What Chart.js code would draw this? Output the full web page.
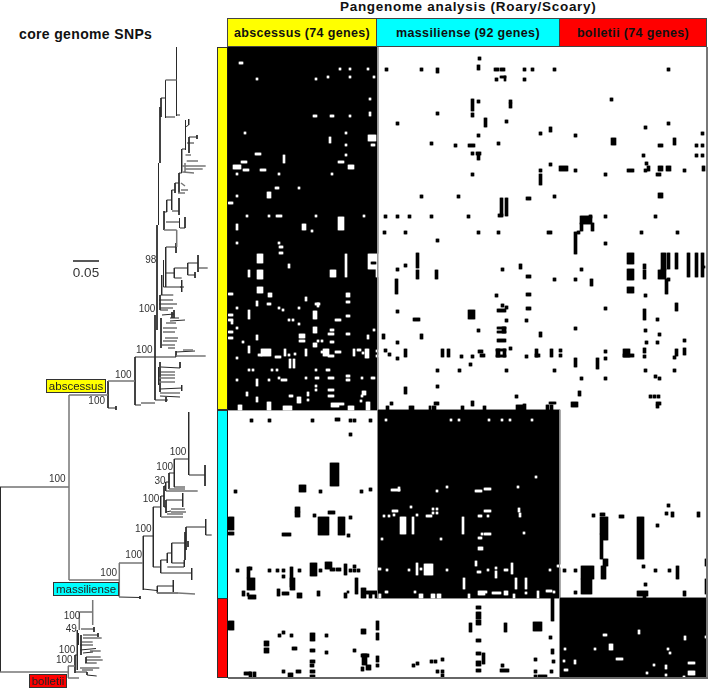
<!DOCTYPE html>
<html>
<head>
<meta charset="utf-8">
<title>Pangenome</title>
<script src="https://cdn.jsdelivr.net/npm/chart.js@4"></script>
<style>
    html, body { margin: 0; padding: 0; background: #fff; width: 708px; height: 688px; overflow: hidden; font-family: "Liberation Sans", Arial, sans-serif; }
    canvas { position: absolute; display: block; }
    #heatChart { filter: blur(0.4px); }
    .abs { position: absolute; box-sizing: border-box; }
    .title { font-weight: bold; color: #111; white-space: nowrap; }
    .head { top: 18px; height: 29px; border: 1px solid #444; font-weight: bold; font-size: 12.5px; line-height: 28px; text-align: center; color: #111; letter-spacing: 0.35px; white-space: nowrap; }
    .strip { left: 217px; width: 11px; border: 1px solid #333; border-right: 1px solid #111; }
</style>
</head>
<body>
<div class="abs title" style="left:19px;top:26px;font-size:14px;letter-spacing:0.35px">core genome SNPs</div>
<div class="abs title" style="left:340px;top:-1px;font-size:13.5px;letter-spacing:0.7px">Pangenome analysis (Roary/Scoary)</div>
<div class="abs head" style="left:227px;width:150px;background:#ffff00">abscessus (74 genes)</div>
<div class="abs head" style="left:376px;width:184px;background:#00ffff">massiliense (92 genes)</div>
<div class="abs head" style="left:559px;width:148px;background:#ff0000">bolletii (74 genes)</div>
<div class="abs strip" style="top:47px;height:363px;background:#ffff00"></div>
<div class="abs strip" style="top:410px;height:189px;background:#00ffff"></div>
<div class="abs strip" style="top:598px;height:80px;background:#ff0000"></div>
<canvas id="treeChart" width="216" height="688" style="left:0;top:0"></canvas>
<canvas id="heatChart" width="480" height="631" style="left:228px;top:47px"></canvas>
<div class="abs" style="left:706px;top:47px;width:2px;height:631px;background:#777"></div>
<div class="abs" style="left:228px;top:677px;width:480px;height:1.5px;background:#666"></div>
<div class="abs" style="left:377px;top:47px;width:1px;height:363px;background:#999"></div>
<div class="abs" style="left:377px;top:410px;width:1px;height:188px;background:#888"></div>
<div class="abs" style="left:559px;top:410px;width:1px;height:268px;background:#888"></div>
<script>
// Heatmap track positions, black species blocks [startX, endX, startRow, endRow]
const trackWidth = 480;
const rowCount = 631;
const blocks = [
    [0, 150, 0, 363],
    [150, 332, 363, 551],
    [332, 479, 551, 630]
];

// Genes missing inside the black blocks [x, row, width, height], default 2x2
const whiteCells = [
    [11,15,4],[111,21],[121,21],[139,21],[28,31],[87,31],[99,29],[121,29],[145,29],[141,51],
    [85,68,4],[102,68,4],[121,68],[141,65,2,4],[16,85],[117,85],[101,90,2,6],[140,88,8,6],[117,97],[143,97,4],
    [117,107],[27,106,6],[55,108,2,8],[13,114,6],[110,114,6],[5,118,8,4],[120,118,6,4],[15,122,6],[32,122,6],
    [8,126],[50,126],[103,126],[47,140,4],[70,140],[8,148],[39,145,4,6],[0,155,5],[18,168],[40,168],[48,168,6],
    [87,168],[135,168],[8,177,2,6],[74,177,4,6],[110,170,6,13],[83,183],
    [8,195],[50,195],[51,199,4],[51,205,4],[29,207,6,9],[117,207,2,23],[60,217,2,4],[20,223,2,7],[29,223,6,9],
    [102,223,6,7],[29,240,6,6],[0,246,5],[40,246,4,4],[118,246,4,4],[77,250,2,4],[118,254,4],[28,254,2,5],
    [39,256,4],[87,256,5],[89,256,2,4],[8,260],[50,260],[54,262],[70,260],[0,267,5],[20,263,2,9],[85,264,4,8],
    [118,268,4],[0,272,5],[3,274,2,3],[60,272],[64,272],[107,272,6],[70,276],[8,280],[85,280,4,6],[0,284,5],
    [102,282,4],[100,286,6],[118,286,4],[145,282],[139,288,2,4],[0,290,5],[28,288,2,5],[71,287,6,4],[71,293,6],
    [102,294,4],[14,294],[89,293],[93,293],[85,296,4,4],[20,299,2,7],[33,302,10,7],[30,307,4],[56,302,2,7],
    [47,309,6],[60,307],[66,306],[77,302,2,7],[95,302,6,7],[93,304],[100,308,6],[107,304,6],[125,302,2,7],
    [129,302,4],[137,302,4,9],[134,305],[148,303],[148,308],[8,310],[61,312,2,9],[65,312,2,9],[20,322],[24,322],
    [43,322],[48,322],[87,322],[98,322,4],[8,332],[28,332,2,7],[40,332],[50,330],[53,332,6],[77,330],[87,330,4],
    [100,330,6],[118,328,4],[118,332,4],[133,330],[143,330,4],[87,338],[87,342],[100,342,6],[134,344,4,4],
    [18,345,2,4],[79,345,2,4],[100,348,6],[61,348,4],[69,350,4,6],[133,348],[28,350,2,5],[132,353],[79,352],
    [103,356,8,4],[111,356,5],[10,358,4,5],[39,355,4,8],[55,359,9,4],[120,359,6,4],[138,355,4,8],
    [140,207,10,15],[148,222,2,8],
    // massiliense block
    [260,372],[273,372],[281,372],[303,372],[157,372],[222,372],[230,372],
    [163,442,9],[170,440,2,4],[208,443],[218,439],[164,463,6],[182,459],[204,461],[208,461],[204,465],[208,465],
    [155,468],[160,468],[165,467],[188,467],[198,468,6],[172,470,6,17],[184,470,2,17],[234,470,2,17],[153,491],
    [212,491],[150,521,3],[158,522],[180,522],[218,522],[188,516,2,12],[196,517,9,11],[192,521],[235,531,2,11],
    [191,547,4,4],[203,547,4,4],[209,547,4,4],[186,544],[157,544,3],[150,547,3,4],
    [307,429],[289,439],[247,443,7],[256,441,7],[256,463,7],[290,461,2,4],[291,466,2,4],[250,468,4],[259,468],
    [295,485],[256,486,7],[253,486],[250,490,4],[250,500,5,3],[247,514,2,5],[259,522],[267,520],[267,524,2,7],
    [276,522,4],[283,516,2,11],[249,524,4],[321,522],[329,518,6],[287,531,2,11],[297,531,2,11],[250,544,7,4],
    [257,544],[264,545,9],[276,544,4,4],[297,545],[318,543,6],[240,547,2,4],[285,547,2,4],[309,544,2,7],[325,544],
    // bolletii block
    [375,587,4],[410,583,2,4],[456,589,2,4],[477,589],[381,597,4,6],[336,601],[366,601],[439,601],[441,605],
    [388,611,7],[335,613],[346,613,2,4],[460,615,7],[425,617],[437,618,2,4],[336,622,4],[418,625],[437,627],
    [460,624,7,4],[455,629]
];

// Genes present outside the black blocks [x, row, width, height], default 3x3
const blackCells = [
    [157,21],[192,21],[208,21,3,5],[208,65],[168,75],[202,95],[226,97],[192,148],[229,148],[156,168],[168,168],
    [180,168],[202,168],[155,184],[176,184],[208,192],[188,206,3,15],[176,217],[168,221],[188,223,3,9],[207,223,3,9],
    [167,232,3,15],[168,263],[185,271,7],[154,287,3,5],[192,287,3,5],[168,294],[156,302],[160,306],[176,302,3,8],
    [168,310],[213,302,3,8],[219,302,3,8],[232,308],[208,322],[230,322],[176,340,3,7],[208,338],[162,355],[206,355,5],
    [158,359,3,4],[181,359,5,4],[201,359,2,4],[204,359,4,4],[233,359,3,4],[143,215,5,2],
    [250,10],[249,18,3,5],[266,21,5],[272,21,5],[295,21],[303,21],[325,21],[439,21],[267,31],[272,29,6,2],[276,29,2,5],
    [295,31],[382,51],[249,53],[281,53],[281,56,3,5],[243,52,3,12],[243,66,3,4],[256,71,3,9],[277,73],[439,75],[416,79],
    [321,80,3,5],[473,85],[311,85],[249,87],[346,87],[383,91,5,7],[445,91,3,7],[269,95],[240,97,7],[430,97,5],[467,97],
    [473,97],[243,105],[248,105,5],[249,108,3,5],[414,107],[467,107],[473,107],[417,115],[321,116],[331,119,9,5],
    [419,119,3,5],[430,119,5,5],[438,119,5,5],[474,119,3,5],[311,122],[346,122],[416,122],[455,122],[399,122,7],[243,126],
    [376,126],[428,126,5],[311,127,3,11],[298,150,5],[325,148],[430,146,5,5],[277,151,3,18],[272,151,3,18],[270,167,5],
    [239,168],[376,168],[426,168],[352,169,12,8],[352,176,3,8],[363,176,3,8],[361,168],
    [249,184],[269,184],[319,184,5],[349,184],[412,184],[448,184],[346,185,3,22],[376,195],[399,206,7,11],[433,206,5,17],
    [439,206,3,16],[447,206,3,16],[459,206,3,24],[467,206,3,24],[473,206,3,24],[475,219,2,2],[415,217,3,5],[415,223,3,9],
    [273,221],[291,217,3,5],[352,221],[399,222,7,11],[430,223,3,9],[433,222,5,10],[439,231],[437,232,3,15],[298,228,5],
    [325,231],[346,231],[362,232,3,7],[399,240,7,6],[267,247],[298,246,5],[416,247],[273,257],[277,259],[269,262,9],
    [298,260,5],[240,263,7,9],[376,260],[447,256,3,8],[415,262,3,11],[428,271],[277,272],[297,272],[249,282],[346,280],
    [416,282],[430,286],[269,280,9,2],[269,284,9,2],[274,280,4,6],[311,285,3,5],[269,292,9],[455,292],[417,294],[428,294],
    [281,300],[250,303,5],[252,307,5],[243,308],[241,316],[268,302,4,8],[275,302,3,8],[268,302,10,2],[268,308,10,2],[297,308],
    [307,302,3,8],[307,307,5],[322,302,3,8],[331,302],[331,307],[376,303],[376,310],[395,302,7,8],[395,307,11],[415,301,3,5],
    [415,308],[447,302,3,7],[445,309],[455,301,3,7],[346,311,3,9],[368,311,3,11],[277,322],[325,322],[416,322],[445,322],
    [426,328],[430,330],[352,330],[376,330],[350,344,3,5],[287,348],[421,348],[425,348],[429,348],[243,354,3,5],[428,355,5],
    [428,358],[343,355,7,5],[321,355,7,2],[255,359,3,4],[288,358,9,5],[295,357,3,6],[318,358,3,5],[322,358,3,5],
    // massiliense rows
    [22,372],[40,372],[83,372],[107,371,5],[121,372],[125,372],[141,372],[121,386],[102,416,9,23],[71,438,7,7],[6,443],
    [91,443],[132,443],[141,441],[67,460,5,5],[67,465,5,5],[85,467],[100,464,7],[121,469],[0,470,6,13],[0,485,6],
    [90,470,11,18],[110,470,7,18],[119,487],[54,486,9],[97,515,7,7],[8,522],[19,520,3,11],[19,531,8,12],[21,520],[40,522],
    [48,522],[54,522],[70,522],[54,528],[62,520,3,20],[62,531,5,12],[82,516,7,13],[91,522],[102,521,5],[108,521,5],
    [116,517,3,11],[121,522],[125,518],[125,522],[129,522],[127,531,3,16],[14,544,3,5],[19,546,2,3],[20,548,8,4],
    [49,542,3,7],[54,545,7],[69,546,5,5],[89,544,3,5],[116,546,3,5],[119,544,2,2],[133,541,5,10],[138,544,12],[141,547,3,4],
    [147,547,3,4],[335,522],[346,522],[364,467],[372,466,5],[391,468,5],[439,457],[437,465],[443,465,3,5],[469,465,3,5],
    [372,470,3,17],[375,470,5,23],[409,470,7,42],[428,477],[372,487,3,25],[375,512,5,7],[477,512,3,7],[414,518],[426,522],
    [440,522],[353,519,13,13],[353,532,11,15],[373,519,5,13],[448,519,3,13],[416,536],[477,532,3,15],[346,544],[409,544,11,5],
    [415,547,3,5],[455,544,3,5],
    // bolletii rows
    [0,574,6,9],[148,574,3,9],[148,586,3,7],[133,582,5,5],[54,584],[50,587],[62,587],[97,587],[82,586,5,8],[36,594,5,5],
    [36,601,5,5],[64,600,5],[82,602,5],[97,604],[125,602],[133,607,8],[134,607,5,11],[133,620,3,4],[138,618,5,5],[148,609,3,6],
    [148,617],[184,617],[188,615],[202,613],[206,613],[213,611],[208,623],[213,623],[213,627],[82,613,5],[82,617,4],[82,623,5],
    [82,628,5,2],[16,625,7],[21,625,3,5],[25,625,3,5],[54,623],[60,626,5,4],[68,623,5],
    [248,559,5],[248,565,5,7],[248,573,5,5],[241,576,3,9],[276,576,3,9],[305,575,9,9],[323,550,3,24],[321,589],[248,592,5],
    [248,605,5],[254,606,3,11],[323,602,3,5],[306,611],[324,613],[248,614,5,5],[248,622,5],[273,617],[272,622,9],[306,623],
    [322,623],[306,628,3,2],[310,628,9,2]
];

// Tree branches [x1, y1, x2, y2]
const darkBranches = [
    [0.5,487,0.5,672],[0,487,69,487],[108,381,108,408],[108,408,116,408],[116,406,116,410],[135,357,135,405],[135,357,155,357],
    [160,107,160,163],[157,225,157,330],[155,315,155,400],[158.5,163,158.5,225],[155,400,166,400],[166,397,166,402],
    [135,405,141,405],[141,403,155,403],
    [161,98,161,117],[161,98,165.5,98],[165.5,80,165.5,118],[176.5,47,176.5,116],[176.5,115,180,115],[165.5,117,175,117],
    [164,211,164,230],[164,212,166.7,212],[166.7,200,166.7,212],[166.7,200,171.7,200],[171.7,190,171.7,210],[171.7,190,175,190],
    [175,183,175,193],[175,183,179,183],[179,173,179,193],[179,173,181.7,173],[181.7,149,181.7,173],[182,149,185.5,149],
    [185.5,120,185.5,150],[185.5,127,188.7,125],[188.7,119,188.7,125],[189,137,189,153],[189,137,197,137],[197,135,197,139],
    [187,143,194,143],[172,211,179,211],[179,198,179,215],[166,222,179,222],[179.5,218,179.5,228],[180,228,185,228],[185,217,185,228],
    [166,247,176.7,247],[176,243,176,253],[165.7,247,165.7,287],[163.5,260,163.5,287],[165.7,273,174.3,273],[174.3,268,174.3,278],
    [174.3,268,187.7,268],[187.7,263,187.7,275],[187.7,263,198,263],[198,255,198,272],[199,268,207.7,268],[187.7,275,195,275],
    [195,272,195,278],[174.3,278,181.7,278],[181.7,280,181.7,292],[180,287,184,287],[163.5,287,181.7,287],[161.7,275,161.7,295],
    [160.7,295,173.3,295],[159,300,173,300],[159,304,177,304],[160,308,173,308],[160,310,168,310],[160,295,160,310],
    [161,318,161,348],[162,315,174,314],[170,318,179,318],[170,321,185,320],[166,323,176,323],[163,328,177,328],[163,332,175,332],
    [165,338,178,338],[163,341,177,341],[162,345,175,345],[168,348,175,348],[172,312,172,318],[174,310,174,318],
    [160,357,176,357],[176,351,176,357],[176,352,195,351],[155,357,160,357],
    [158.5,367,158.5,385],[161,367,180,368],[180,362,180,368],[160,362,160,392],[160,389,182,388],[181.7,385,181.7,391],
    [160,396,180,397],[166,400,168,400],
    // massiliense
    [119,597,140,597.5],[140,596,140,599],[143,536,153,536],[143.3,536,143.3,590],[143,589,157,590.5],[157,586,173,586],[173.3,580,173.3,592],
    [157.3,586,157.3,593],[157,593,178,593],[153.3,507,153.3,567],[153,507,160.7,507],[160.7,496,160.7,517],[161,496,164,496],[164,486,164,507],
    [164,486,165.7,486],[165.7,482,165.7,491],[165.7,482,169,482],[169,473,169,489],[169,473,174.3,473],[174.3,459,174.3,487],[174.3,459,188.7,459],
    [188.7,412,188.7,475],[189,475,205,475],[205,465,205,486],[174,487,185,487],[166,491,197.7,491],[164,507,166,507],[166,500,166,513],
    [166,500,182.7,500],[182.7,493,182.7,507],[166,512,171,511],[171,509,185,509],[171,512,186,512],[153,567,160.7,567],[160.7,560,160.7,573],
    [160.7,560,167.3,560],[167.3,553,167.3,563],[167.3,553,171.7,553],[171.7,543,171.7,563],[171.7,543,185,543],[185,532,185,560],[186,527,186,550],
    [186,527,205.7,527],[205.7,519,205.7,535],[205.7,535,211.7,535],[188,541,188,547],[171.7,563,184,563],[184.3,560,184.3,567],[167.3,567,184,567],
    [160.7,573,191.7,573],[191.7,568,191.7,580],
    // bolletii
    [75,655,75,673],[75,655,77.3,655],[77.3,630,77.3,670],[78.3,633,78.3,645],[79.3,612,92.7,612],[81,629,94,629],[94,627,94,632],
    [83,635,98,635],[98,633,98,637],[83,638,101.7,638],[80,645,93,645],[80,650,96,648.5],[90,651,100.7,651],[83,653,93,652],[86,657,100.7,657],
    [86,660,102.7,660],[85,663,96.7,663],[80,668,99.3,668],[82,670,93,670],[87,675,96.7,676],[76,672,87,672],[86,657,86,663],[81,635,81,655],
    [87,672,87,675]
];
const greyBranches = [
    [0,672,69,672],[69,395,69,580],[69,395,108,395],[108,381,135,381],[165.5,80,176.5,80],[185.5,155,191,155],[186.7,161,198,161],
    [182,166,205.7,166],[185,169,202.7,169],[183,172,194,173],[181,183,185,186],[181,190,188,190],[178,193,185,193],[164,230,176.7,230],
    [176.7,230,176.7,247],[185,163,185,172],
    [176,356,205.7,356],[183,350,193,350],[161,372,175,372],[161,375,175,375],[159,378,175,378],[159,382,175,382],[160,393,180,393],
    [69,580,119,580],[119.3,563,119.3,597],[119,563,143,563],[157,593,178,593],[178,593,195,594],[169,489,185,489],[161,517,183,517],[167,514,183,514],
    [68.3,666,68.3,678],[68,666,75,666],[68,678,79,678],[79.3,612,79.3,630],[92.7,600,92.7,625],[82,642,92.7,642]
];
const scaleBar = [73, 261, 99, 261];

// Bootstrap support [x, y, text]
const supportLabels = [
    [150.7,260,'98'],[147,309,'100'],[144.3,350,'100'],[123.3,375,'100'],[96.7,401,'100'],[57.3,479.5,'100'],[178,452,'100'],
    [164.7,467,'100'],[160,481,'30'],[151,499,'100'],[143.3,529.5,'100'],[133.7,555,'100'],[108.7,573,'100'],[72,616,'100'],
    [71.3,629,'49'],[67,650,'100'],[64.3,660,'100']
];
// Clade boxes [x, y, width, height, fill, text]
const cladeLabels = [
    [46.5,379.5,59,13,'#ffff00','abscessus'],
    [53.5,582.5,65,13,'#00ffff','massiliense'],
    [29.5,674.5,37,13,'#ff0000','bolletii']
];

// turn [x1,y1,x2,y2] lists into a broken line for a scatter dataset
function branchPoints(list) {
    const pts = [];
    list.forEach(s => {
        pts.push({ x: s[0], y: s[1] }, { x: s[2], y: s[3] }, { x: NaN, y: NaN });
    });
    return pts;
}

const treeLabelPlugin = {
    id: 'treeLabels',
    afterDatasetsDraw(chart) {
        const { ctx, scales: { x, y } } = chart;
        ctx.save();
        ctx.textBaseline = 'middle';
        ctx.textAlign = 'center';
        ctx.fillStyle = '#333';
        ctx.font = '10px "Liberation Sans", Arial, sans-serif';
        supportLabels.forEach(l => ctx.fillText(l[2], x.getPixelForValue(l[0]), y.getPixelForValue(l[1])));
        ctx.font = '13.5px "Liberation Sans", Arial, sans-serif';
        ctx.fillText('0.05', x.getPixelForValue(86), y.getPixelForValue(273));
        cladeLabels.forEach(c => {
            const px = x.getPixelForValue(c[0]), py = y.getPixelForValue(c[1]);
            ctx.fillStyle = c[4];
            ctx.strokeStyle = '#333';
            ctx.lineWidth = 1;
            ctx.fillRect(px, py, c[2], c[3]);
            ctx.strokeRect(px, py, c[2], c[3]);
            ctx.fillStyle = '#222';
            ctx.font = '11.5px "Liberation Sans", Arial, sans-serif';
            ctx.fillText(c[5], px + c[2] / 2, py + c[3] / 2 + 0.5);
        });
        ctx.restore();
    }
};

new Chart(document.getElementById('treeChart'), {
    type: 'scatter',
    data: {
        datasets: [
            { data: branchPoints(greyBranches), showLine: true, borderColor: '#777', borderWidth: 1.5, pointRadius: 0 },
            { data: branchPoints(darkBranches), showLine: true, borderColor: '#2a2a2a', borderWidth: 1, pointRadius: 0 },
            { data: branchPoints([scaleBar]), showLine: true, borderColor: '#222', borderWidth: 1.5, pointRadius: 0 }
        ]
    },
    options: {
        responsive: false,
        animation: false,
        layout: { padding: 0 },
        plugins: { legend: { display: false }, tooltip: { enabled: false } },
        scales: {
            x: { type: 'linear', display: false, min: 0, max: 216 },
            y: { type: 'linear', display: false, min: 0, max: 688, reverse: true }
        }
    },
    plugins: [treeLabelPlugin]
});

// Each track column can hold one bar per dataset, so stack cells into layers
function cellLayers(cells, defaultW, defaultH) {
    const layers = [];
    cells.forEach(c => {
        const w = c[2] || defaultW, h = c[3] || defaultH;
        for (let i = 0; i < w; i++) {
            const col = c[0] + i;
            if (col >= trackWidth) continue;
            let layer = layers.find(l => l[col] === null);
            if (!layer) {
                layer = new Array(trackWidth).fill(null);
                layers.push(layer);
            }
            layer[col] = [c[1], c[1] + h];
        }
    });
    return layers;
}

const trackLabels = [];
for (let i = 0; i < trackWidth; i++) trackLabels.push(i);

const blockBars = new Array(trackWidth).fill(null);
blocks.forEach(b => {
    for (let i = b[0]; i < b[1]; i++) blockBars[i] = [b[2], b[3]];
});

const heatDatasets = [{ data: blockBars, backgroundColor: '#000', order: 3 }];
cellLayers(whiteCells, 2, 2).forEach(l => heatDatasets.push({ data: l, backgroundColor: '#fff', order: 2 }));
cellLayers(blackCells, 3, 3).forEach(l => heatDatasets.push({ data: l, backgroundColor: '#000', order: 1 }));
heatDatasets.forEach(d => {
    d.grouped = false;
    d.barPercentage = 1;
    d.categoryPercentage = 1;
    d.borderWidth = 0;
});

new Chart(document.getElementById('heatChart'), {
    type: 'bar',
    data: { labels: trackLabels, datasets: heatDatasets },
    options: {
        responsive: false,
        animation: false,
        layout: { padding: 0 },
        plugins: { legend: { display: false }, tooltip: { enabled: false } },
        scales: {
            x: { display: false },
            y: { type: 'linear', display: false, min: 0, max: rowCount, reverse: true }
        }
    }
});
</script>
</body>
</html>
